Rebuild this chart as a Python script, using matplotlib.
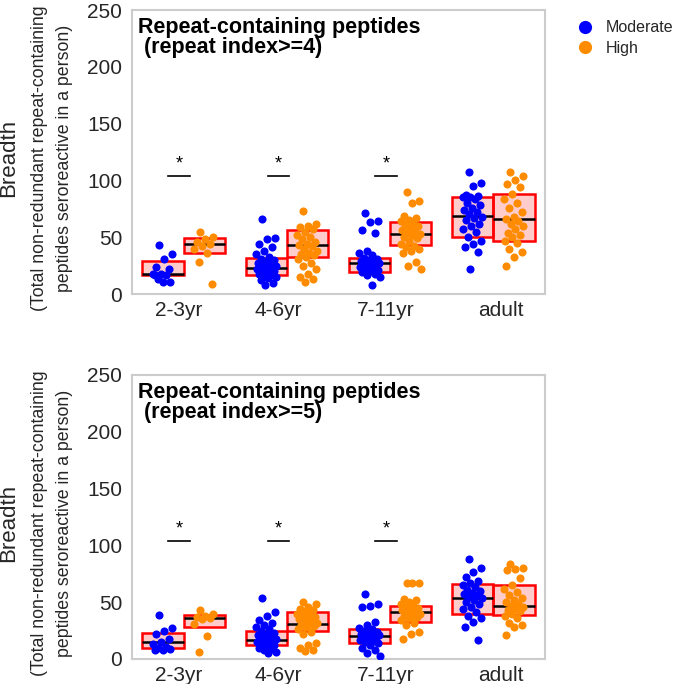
import numpy as np
import matplotlib
matplotlib.use("Agg")
import matplotlib.pyplot as plt
from matplotlib.lines import Line2D

plt.rcParams['font.family'] = ['Liberation Sans', 'DejaVu Sans']

groups = ['2-3yr', '4-6yr', '7-11yr', 'adult']
levels = ['Moderate', 'High']
colors = {'Moderate': '#0000ff', 'High': '#ff8c00'}

# tick labels and significance marks sit slightly off the box centres in the original
tick_pos = [-0.045, 0.92, 1.96, 3.07]
sig_groups = [0, 1, 2]
sig_y = 104

# --- panel 1: repeat index >= 4 ---
ri4_points = {
    ('2-3yr', 'Moderate'): [43, 35, 31, 24, 22, 18, 18, 17, 13, 11, 11, 17],
    ('2-3yr', 'High'): [55, 50, 48, 46, 44, 42, 40, 36, 28, 9],
    ('4-6yr', 'Moderate'): [66, 49, 48, 44, 41, 38, 35, 33, 31, 30, 28, 27, 26, 25, 25, 24,
                            24, 23, 23, 22, 21, 21, 20, 19, 18, 17, 16, 15, 14, 12, 10, 8],
    ('4-6yr', 'High'): [73, 62, 60, 59, 57, 55, 52, 50, 48, 46, 44, 43, 42, 40, 38, 36, 35,
                        34, 33, 31, 27, 25, 22, 18, 15, 13, 11],
    ('7-11yr', 'Moderate'): [71, 64, 63, 56, 54, 38, 36, 34, 32, 31, 30, 29, 28, 28, 27, 27,
                             26, 26, 25, 24, 23, 22, 21, 20, 19, 18, 17, 15, 8],
    ('7-11yr', 'High'): [90, 82, 80, 69, 67, 65, 64, 62, 61, 60, 58, 56, 55, 54, 53, 52, 50,
                         49, 47, 44, 42, 41, 40, 38, 36, 28, 25, 22],
    ('adult', 'Moderate'): [107, 98, 95, 87, 86, 85, 85, 84, 80, 78, 76, 74, 72, 70, 68, 67,
                            65, 62, 60, 57, 55, 50, 47, 44, 41, 37, 22],
    ('adult', 'High'): [107, 104, 100, 97, 94, 88, 84, 80, 76, 72, 68, 66, 64, 62, 60, 57,
                        54, 52, 50, 47, 45, 40, 37, 33, 25],
}
# box stats (q1, median, q3) per group, Moderate then High
ri4_q1 = [17, 36, 17, 33, 19, 43, 50, 47]
ri4_med = [18, 44, 23, 43, 27, 53, 69, 66]
ri4_q3 = [29, 49, 32, 56, 32, 63, 85, 88]

# --- panel 2: repeat index >= 5 ---
ri5_points = {
    ('2-3yr', 'Moderate'): [39, 27, 25, 22, 18, 15, 13, 11, 10, 9, 8, 8],
    ('2-3yr', 'High'): [43, 40, 38, 37, 36, 35, 31, 20, 6],
    ('4-6yr', 'Moderate'): [54, 41, 38, 34, 32, 30, 28, 26, 25, 23, 22, 21, 20, 19, 18, 17,
                            17, 16, 16, 15, 14, 13, 12, 11, 10, 9, 8, 6, 5],
    ('4-6yr', 'High'): [50, 48, 46, 44, 43, 42, 40, 39, 38, 37, 36, 35, 34, 33, 32, 31, 30,
                        29, 28, 26, 24, 22, 14, 12, 10, 8, 7],
    ('7-11yr', 'Moderate'): [57, 48, 47, 46, 33, 30, 27, 26, 25, 24, 23, 22, 22, 21, 21, 20,
                             20, 19, 18, 17, 16, 15, 14, 12, 10, 8, 5, 3],
    ('7-11yr', 'High'): [67, 67, 67, 53, 52, 50, 48, 47, 46, 45, 44, 43, 42, 41, 40, 39, 38,
                         37, 36, 34, 32, 30, 24, 22, 18],
    ('adult', 'Moderate'): [88, 80, 77, 72, 69, 67, 65, 63, 61, 60, 58, 57, 56, 55, 54, 52,
                            50, 48, 46, 44, 41, 38, 36, 33, 28, 17],
    ('adult', 'High'): [84, 80, 79, 78, 71, 65, 62, 59, 56, 54, 52, 50, 48, 47, 46, 44, 43,
                        42, 40, 38, 36, 32, 30, 28, 21],
}
ri5_q1 = [10, 28, 12, 25, 14, 33, 40, 39]
ri5_med = [15, 36, 17, 31, 20, 41, 54, 47]
ri5_q3 = [23, 39, 25, 41, 26, 47, 66, 65]

titles = ['Repeat-containing peptides\n (repeat index>=4)',
          'Repeat-containing peptides\n (repeat index>=5)']


def jitter(n, spread=0.1):
    # deterministic spread of the strip points
    k = np.arange(n)
    return ((k * 0.618034 + 0.3) % 1 - 0.5) * 2 * spread


def draw_panel(ax, points, q1, med, q3, title):
    stats = []
    positions = []
    i = 0
    for g, grp in enumerate(groups):
        for h, lvl in enumerate(levels):
            stats.append(dict(med=med[i], q1=q1[i], q3=q3[i],
                              whislo=q1[i], whishi=q3[i], fliers=[]))
            positions.append(g - 0.2 + 0.4 * h)
            i += 1
    ax.bxp(stats, positions=positions, widths=0.4, patch_artist=True,
           showcaps=False, showfliers=False,
           boxprops=dict(facecolor=(1, 0, 0, 0.2), edgecolor='#ff0000', linewidth=1.8),
           medianprops=dict(color='black', linewidth=1.8),
           whiskerprops=dict(linewidth=0))
    for g, grp in enumerate(groups):
        for h, lvl in enumerate(levels):
            vals = np.array(points[(grp, lvl)])
            x = g - 0.2 + 0.4 * h + jitter(len(vals))
            ax.scatter(x, vals, s=34, color=colors[lvl], linewidths=0, zorder=3)
    for g in sig_groups:
        ax.plot([tick_pos[g] - 0.105, tick_pos[g] + 0.105], [sig_y, sig_y],
                color='black', lw=1.2)
        ax.text(tick_pos[g], sig_y + 3, '*', ha='center', va='bottom', fontsize=13)
    ax.set_xlim(-0.5, 3.5)
    ax.set_ylim(0, 250)
    ax.set_yticks([0, 50, 100, 150, 200, 250])
    ax.set_xticks(tick_pos)
    ax.set_xticklabels(groups)
    ax.tick_params(length=0, labelsize=15, labelcolor='#262626')
    ax.tick_params(axis='y', pad=7)
    ax.tick_params(axis='x', pad=5)
    for sp in ax.spines.values():
        sp.set_color('#cccccc')
        sp.set_linewidth(1.5)
    ax.text(0.015, 0.975, title, transform=ax.transAxes, ha='left', va='top',
            fontsize=15.5, fontweight='bold', linespacing=0.95)


fig = plt.figure(figsize=(6.73, 6.84), dpi=100)
W, H = 673, 684
ax1 = fig.add_axes([132 / W, 1 - 294 / H, 413 / W, 284 / H])
ax2 = fig.add_axes([132 / W, 1 - 659 / H, 413 / W, 284 / H])

draw_panel(ax1, ri4_points, ri4_q1, ri4_med, ri4_q3, titles[0])
draw_panel(ax2, ri5_points, ri5_q1, ri5_med, ri5_q3, titles[1])

for yc in [158, 523]:
    fig.text(9 / W, 1 - yc / H, 'Breadth', rotation=90, ha='center', va='center',
             fontsize=16, color='#262626')
    fig.text(52 / W, 1 - yc / H,
             '(Total non-redundant repeat-containing\npeptides seroreactive in a person)',
             rotation=90, ha='center', va='center', fontsize=12.8, color='#262626',
             linespacing=1.6)

handles = [Line2D([], [], marker='o', linestyle='', markersize=9.5,
                  markerfacecolor=colors[l], markeredgewidth=0) for l in levels]
fig.legend(handles, levels, loc='upper left', bbox_to_anchor=(563 / W, 1 - 14 / H),
           frameon=False, fontsize=11.5, handletextpad=0.3, labelspacing=0.35,
           borderaxespad=0, labelcolor='#262626')

fig.savefig('out.png', dpi=100)
